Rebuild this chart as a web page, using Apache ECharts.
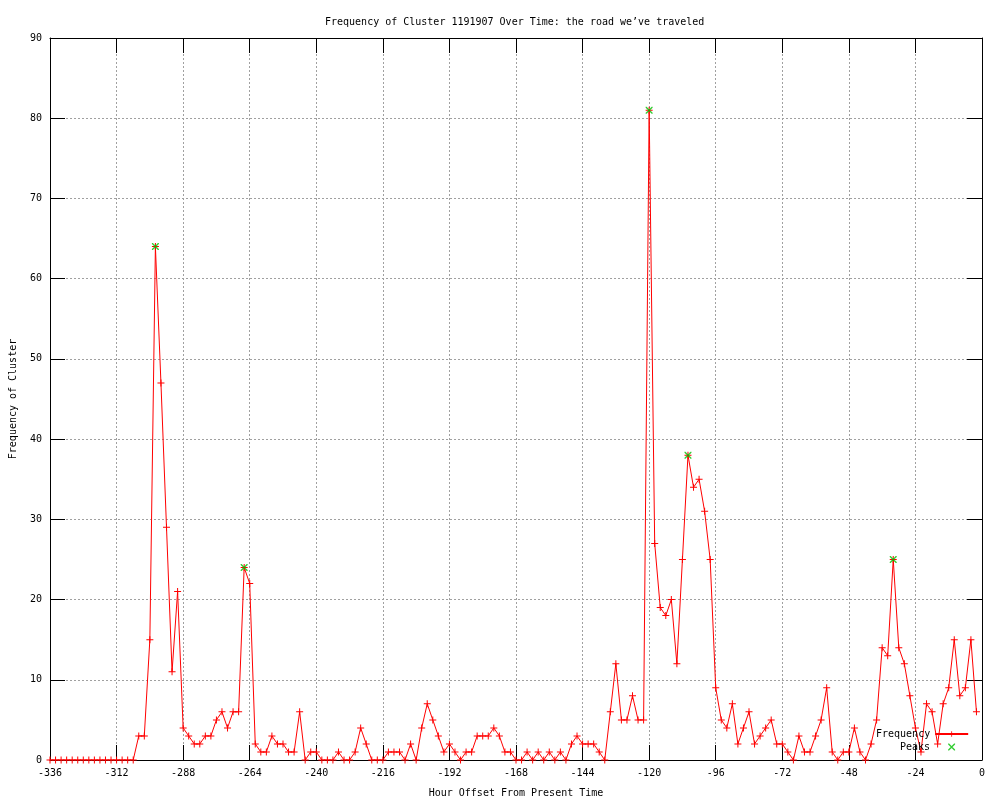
<!DOCTYPE html>
<html>
<head>
<meta charset="utf-8">
<script src="https://cdn.jsdelivr.net/npm/echarts@6/dist/echarts.min.js"></script>
<style>html,body{margin:0;padding:0;background:#fff}#c{width:1000px;height:800px}</style>
</head>
<body>
<div id="c"></div>
<script>
const hours = [-336,-334,-332,-330,-328,-326,-324,-322,-320,-318,-316,-314,-312,-310,-308,-306,
-304,-302,-300,-298,-296,-294,-292,-290,-288,-286,-284,-282,-280,-278,-276,-274,-272,-270,-268,-266,-264,
-262,-260,-258,-256,-254,-252,-250,-248,-246,-244,-242,-240,-238,-236,-234,-232,-230,-228,-226,-224,-222,
-220,-218,-216,-214,-212,-210,-208,-206,-204,-202,-200,-198,-196,-194,-192,-190,-188,-186,-184,-182,-180,
-178,-176,-174,-172,-170,-168,-166,-164,-162,-160,-158,-156,-154,-152,-150,-148,-146,-144,-142,-140,-138,
-136,-134,-132,-130,-128,-126,-124,-122,-120,-118,-116,-114,-112,-110,-108,-106,-104,-102,-100,-98,-96,
-94,-92,-90,-88,-86,-84,-82,-80,-78,-76,-74,-72,-70,-68,-66,-64,-62,-60,-58,-56,-54,-52,-50,-48,-46,-44,
-42,-40,-38,-36,-34,-32,-30,-28,-26,-24,-22,-20,-18,-16,-14,-12,-10,-8,-6,-4,-2];
const frequency = [0,0,0,0,0,0,0,0,0,0,0,0,0,0,0,0,
3,3,15,64,47,29,11,21,4,3,2,2,3,3,5,6,4,6,6,24,22,
2,1,1,3,2,2,1,1,6,0,1,1,0,0,0,1,0,0,1,4,2,
0,0,0,1,1,1,0,2,0,4,7,5,3,1,2,1,0,1,1,3,3,
3,4,3,1,1,0,0,1,0,1,0,1,0,1,0,2,3,2,2,2,1,
0,6,12,5,5,8,5,5,81,27,19,18,20,12,25,38,34,35,31,25,9,
5,4,7,2,4,6,2,3,4,5,2,2,1,0,3,1,1,3,5,9,1,0,1,1,4,1,
0,2,5,14,13,25,14,12,8,4,1,7,6,2,7,9,15,8,9,15,6];
const peakHours = [-298,-266,-120,-106,-32];
const peakValues = [64,24,81,38,25];
const xTicks = {min:-336, max:0, step:24};
const yTicks = {min:0, max:90, step:10};

const FONT = 'DejaVu Sans Mono';
const plusPath = 'path://M0,3h7v1h-7zM3,0h1v7h-1z';
const xPath = 'path://M0,0L1,0L7,6L7,7L6,7L0,1ZM6,0L7,0L7,1L1,7L0,7L0,6Z';

const lineData = hours.map((h,i)=>[h, frequency[i]]);
const peakData = peakHours.map((h,i)=>[h, peakValues[i]]);

const tickStyle = {show:true, inside:true, length:15, lineStyle:{color:'#000', width:1}};
const axisLine = {show:true, onZero:false, lineStyle:{color:'#000', width:1}};
const gridLine = {show:true, lineStyle:{color:'#a0a0a0', width:1, type:[2,2]}};
const lbl = {color:'#000', fontFamily:FONT, fontSize:10};

const chart = echarts.init(document.getElementById('c'), null, {renderer:'canvas'});
chart.setOption({
  animation:false,
  backgroundColor:'#fff',
  title:{text:'Frequency of Cluster 1191907 Over Time: the road we\u2019ve traveled',
    left:320, top:12, textStyle:{fontFamily:FONT, fontSize:10, fontWeight:'normal', color:'#000'}},
  grid:{left:50, right:18, top:38, bottom:40, containLabel:false, outerBoundsMode:'none'},
  legend:[
    {data:['Frequency'], orient:'vertical', left:876, top:729, align:'right',
     itemWidth:33, itemHeight:7, itemGap:6, textStyle:lbl, selectedMode:false, padding:0},
    {data:['Peaks'], orient:'vertical', left:900, top:742, align:'right',
     itemWidth:33, itemHeight:7, itemGap:6, textStyle:lbl, selectedMode:false, padding:0}
  ],
  xAxis:[
    {type:'value', position:'bottom', min:xTicks.min, max:xTicks.max, interval:xTicks.step,
     name:'Hour Offset From Present Time', nameLocation:'middle', nameGap:28,
     nameTextStyle:lbl, axisLine:axisLine, axisTick:tickStyle,
     axisLabel:{...lbl, margin:8}, splitLine:gridLine},
    {type:'value', position:'top', min:xTicks.min, max:xTicks.max, interval:xTicks.step,
     axisLine:axisLine, axisTick:tickStyle, axisLabel:{show:false}, splitLine:{show:false}}
  ],
  yAxis:[
    {type:'value', position:'left', min:yTicks.min, max:yTicks.max, interval:yTicks.step,
     name:'Frequency of Cluster', nameLocation:'middle', nameGap:32, nameRotate:90,
     nameTextStyle:lbl, axisLine:axisLine, axisTick:tickStyle,
     axisLabel:{...lbl, margin:8}, splitLine:gridLine},
    {type:'value', position:'right', min:yTicks.min, max:yTicks.max, interval:yTicks.step,
     axisLine:axisLine, axisTick:tickStyle, axisLabel:{show:false}, splitLine:{show:false}}
  ],
  series:[
    {name:'Frequency', type:'line', data:lineData, showSymbol:true, showAllSymbol:true,
     symbol:plusPath, symbolSize:7, itemStyle:{color:'#ff0000'},
     lineStyle:{color:'#ff0000', width:1}, z:2},
    {name:'Peaks', type:'scatter', data:peakData, symbol:xPath, symbolSize:7,
     itemStyle:{color:'#00c000'}, z:3}
  ]
});
</script>
</body>
</html>
